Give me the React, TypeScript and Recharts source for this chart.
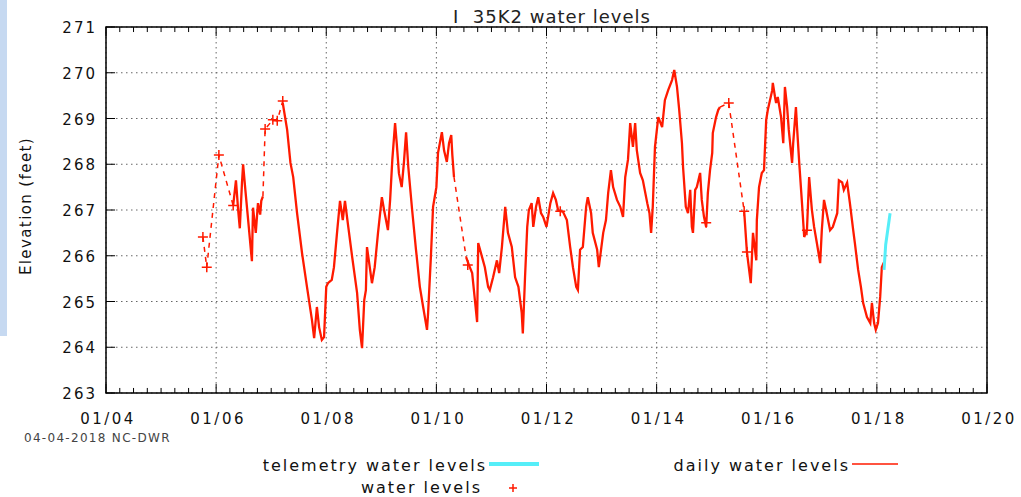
// Well I 35K2 — water level hydrograph, NC-DWR style (gnuplot look) in Recharts.
import React from 'react';
import {
  ComposedChart, Line, XAxis, YAxis, CartesianGrid, ReferenceLine, ReferenceArea,
} from 'recharts';

type Pt = [number, number];

const xTicks = [2004, 2006, 2008, 2010, 2012, 2014, 2016, 2018, 2020];
const xTickLabels = ['01/04', '01/06', '01/08', '01/10', '01/12', '01/14', '01/16', '01/18', '01/20'];
const yTicks = [263, 264, 265, 266, 267, 268, 269, 270, 271];

// daily water levels (ft), split where the record has gaps
const daily2006: Pt[] = [
  [2006.31, 267.1], [2006.36, 267.65], [2006.4, 267.0], [2006.43, 266.6], [2006.47, 267.6],
  [2006.49, 268.0], [2006.53, 267.45], [2006.58, 266.8], [2006.65, 265.88], [2006.67, 267.05],
  [2006.72, 266.5], [2006.76, 267.15], [2006.8, 266.9], [2006.82, 267.2], [2006.85, 267.3],
];

const daily2007: Pt[] = [
  [2007.21, 269.34], [2007.29, 268.75], [2007.35, 268.03], [2007.4, 267.72], [2007.47, 266.93],
  [2007.56, 266.06], [2007.65, 265.32], [2007.74, 264.6], [2007.78, 264.2], [2007.83, 264.88],
  [2007.87, 264.44], [2007.92, 264.16], [2007.96, 264.22], [2008.0, 265.32], [2008.03, 265.4],
  [2008.1, 265.47], [2008.14, 265.75], [2008.2, 266.56], [2008.25, 267.2], [2008.3, 266.78],
  [2008.34, 267.2], [2008.4, 266.63], [2008.47, 265.98], [2008.56, 265.19], [2008.61, 264.38],
  [2008.65, 263.98], [2008.69, 265.03], [2008.72, 265.25], [2008.74, 266.19], [2008.79, 265.75],
  [2008.83, 265.4], [2008.88, 265.75], [2008.94, 266.5], [2009.01, 267.28], [2009.05, 267.0],
  [2009.12, 266.56], [2009.16, 267.22], [2009.2, 268.1], [2009.25, 268.9], [2009.28, 268.46],
  [2009.32, 267.8], [2009.37, 267.5], [2009.41, 268.03], [2009.45, 268.7], [2009.49, 267.94],
  [2009.56, 267.0], [2009.63, 266.13], [2009.7, 265.32], [2009.76, 264.88], [2009.83, 264.38],
  [2009.85, 264.75], [2009.9, 265.97], [2009.94, 267.07], [2010.0, 267.5], [2010.03, 268.25],
  [2010.1, 268.7], [2010.14, 268.3], [2010.19, 268.05], [2010.23, 268.46], [2010.27, 268.64],
  [2010.29, 268.2], [2010.32, 267.72],
];

const daily2010: Pt[] = [
  [2010.54, 265.97], [2010.59, 265.8], [2010.65, 265.62], [2010.7, 265.03], [2010.74, 264.55],
  [2010.76, 266.28], [2010.83, 265.97], [2010.88, 265.75], [2010.94, 265.32], [2010.97, 265.25],
  [2011.03, 265.53], [2011.1, 265.9], [2011.14, 265.62], [2011.19, 266.19], [2011.25, 267.07],
  [2011.3, 266.5], [2011.37, 266.19], [2011.43, 265.53], [2011.49, 265.32], [2011.55, 264.75],
  [2011.57, 264.3], [2011.61, 265.53], [2011.65, 266.63], [2011.68, 267.0], [2011.73, 267.15],
  [2011.76, 266.63], [2011.81, 267.07], [2011.85, 267.28], [2011.9, 266.93], [2011.94, 266.85],
  [2012.0, 266.63], [2012.07, 267.15], [2012.12, 267.37], [2012.17, 267.22], [2012.21, 267.0],
  [2012.3, 266.96], [2012.37, 266.78], [2012.43, 266.19], [2012.48, 265.75], [2012.54, 265.32],
  [2012.57, 265.25], [2012.61, 266.13], [2012.66, 266.19], [2012.72, 267.07], [2012.75, 267.28],
  [2012.81, 266.93], [2012.84, 266.5], [2012.92, 266.13], [2012.95, 265.75], [2013.03, 266.5],
  [2013.08, 266.78], [2013.12, 267.37], [2013.17, 267.87], [2013.21, 267.5], [2013.28, 267.22],
  [2013.34, 267.07], [2013.39, 266.85], [2013.43, 267.72], [2013.48, 268.1], [2013.52, 268.9],
  [2013.57, 268.38], [2013.61, 268.9], [2013.64, 268.31], [2013.7, 267.81], [2013.75, 267.65],
  [2013.83, 267.15], [2013.87, 266.93], [2013.9, 266.5], [2013.93, 267.07], [2013.97, 268.38],
  [2014.03, 269.03], [2014.1, 268.81], [2014.15, 269.4], [2014.21, 269.62], [2014.28, 269.84],
  [2014.32, 270.06], [2014.37, 269.69], [2014.41, 269.19], [2014.46, 268.46], [2014.48, 267.94],
  [2014.53, 267.07], [2014.57, 266.93], [2014.61, 267.44], [2014.64, 266.63], [2014.66, 266.5],
  [2014.7, 267.44], [2014.73, 267.5], [2014.79, 267.81], [2014.82, 267.22], [2014.86, 266.85],
  [2014.9, 266.63], [2014.93, 267.37], [2014.97, 267.87], [2015.01, 268.25], [2015.02, 268.68],
  [2015.08, 269.03], [2015.12, 269.19], [2015.15, 269.25],
];

const daily2015: Pt[] = [
  [2015.59, 266.97], [2015.64, 266.08], [2015.71, 265.4], [2015.75, 266.5], [2015.81, 265.9],
  [2015.82, 266.78], [2015.86, 267.5], [2015.91, 267.81], [2015.95, 267.87], [2015.99, 268.97],
  [2016.02, 269.19], [2016.1, 269.62], [2016.11, 269.78], [2016.15, 269.47], [2016.17, 269.34],
  [2016.2, 269.47], [2016.26, 269.03], [2016.3, 268.46], [2016.33, 269.69], [2016.37, 269.25],
  [2016.4, 268.75], [2016.46, 268.03], [2016.48, 268.46], [2016.53, 269.25], [2016.55, 268.81],
  [2016.59, 268.03], [2016.64, 267.15], [2016.68, 266.41], [2016.73, 266.56], [2016.77, 267.72],
  [2016.82, 267.0], [2016.86, 266.63], [2016.91, 266.28], [2016.97, 265.84], [2017.0, 266.56],
  [2017.04, 267.22], [2017.09, 266.93], [2017.15, 266.56], [2017.2, 266.63], [2017.28, 266.93],
  [2017.31, 267.65], [2017.37, 267.6], [2017.4, 267.44], [2017.46, 267.6], [2017.51, 267.15],
  [2017.57, 266.56], [2017.6, 266.28], [2017.66, 265.69], [2017.71, 265.32], [2017.75, 264.97],
  [2017.82, 264.66], [2017.88, 264.53], [2017.91, 264.97], [2017.95, 264.53], [2017.98, 264.38],
  [2018.02, 264.53], [2018.06, 265.1], [2018.09, 265.75], [2018.13, 265.86],
];

// telemetry water levels
const telemetry: Pt[] = [[2018.13, 265.69], [2018.16, 266.24], [2018.24, 266.93]];

// manual (tape) water levels
const manual: Pt[] = [
  [2005.76, 266.41], [2005.83, 265.75], [2006.05, 268.2], [2006.31, 267.1], [2006.89, 268.77],
  [2007.03, 268.97], [2007.11, 268.95], [2007.21, 269.38], [2010.57, 265.8], [2012.25, 266.97],
  [2014.9, 266.72], [2015.31, 269.34], [2015.59, 266.97], [2015.64, 266.08], [2016.73, 266.56],
];

// dashed connections across gaps in the daily record
const bridges: Pt[][] = [
  [[2005.76, 266.41], [2005.83, 265.75], [2006.05, 268.2], [2006.31, 267.1]],
  [[2006.85, 267.3], [2006.89, 268.77], [2007.03, 268.97], [2007.11, 268.95], [2007.21, 269.38]],
  [[2010.32, 267.72], [2010.54, 265.97]],
  [[2015.15, 269.25], [2015.31, 269.34], [2015.59, 266.97]],
];

const RED = '#ff1a00';
const CYAN = '#55eef8';
const FONT = '"DejaVu Sans", Verdana, sans-serif';

function joinSegments(segs: Pt[][]) {
  const out: { t: number; v: number | null }[] = [];
  segs.forEach((s, i) => {
    if (i > 0) out.push({ t: (out[out.length - 1].t + s[0][0]) / 2, v: null });
    s.forEach(([t, v]) => out.push({ t, v }));
  });
  return out;
}

const dailyData = joinSegments([daily2006, daily2007, daily2010, daily2015]);
const bridgeData = joinSegments(bridges);
const telemetryData = telemetry.map(([t, v]) => ({ t, v }));
const manualData = manual.map(([t, v]) => ({ t, v }));

const minorTicks: number[] = [];
for (let q = 2004; q <= 2020; q += 0.25) if (!xTicks.includes(q)) minorTicks.push(q);

function XTick({ x, y, payload }: any) {
  const i = xTicks.indexOf(payload.value);
  return (
    <text x={x + 2} y={y + 31} textAnchor="middle" fontFamily={FONT} fontSize={15}
          letterSpacing={2.5} fill="#111">
      {xTickLabels[i]}
    </text>
  );
}

function YTick({ x, y, payload }: any) {
  return (
    <text x={x - 9} y={y + 6} textAnchor="end" fontFamily={FONT} fontSize={15}
          letterSpacing={2} fill="#111">
      {payload.value}
    </text>
  );
}

function Plus({ cx, cy, index }: any) {
  if (cx == null || cy == null) return <g key={index} />;
  return (
    <path key={index} d={`M${cx - 5},${cy}h10M${cx},${cy - 5}v10`}
          stroke={RED} strokeWidth={1.5} fill="none" />
  );
}

export default function App() {
  const seg = (a: Pt, b: Pt, k: string) => (
    <ReferenceLine key={k} segment={[{ x: a[0], y: a[1] }, { x: b[0], y: b[1] }]}
                   stroke="#000" strokeWidth={1} />
  );
  return (
    <div style={{ position: 'absolute', left: 0, top: 0, width: 1021, height: 497,
                  background: '#fff', fontFamily: FONT }}>
      <div style={{ position: 'absolute', left: 0, top: 0, width: 7, height: 336,
                    background: '#c6d9f1' }} />
      <ComposedChart width={1021} height={497}
                     margin={{ top: 27, right: 34, bottom: 74, left: 46 }}>
        <CartesianGrid stroke="#666" strokeDasharray="1.5 3.5" />
        <XAxis type="number" dataKey="t" domain={[2004, 2020]} ticks={xTicks}
               allowDataOverflow height={30} tickLine={false} axisLine={false}
               tickSize={0} tickMargin={0} tick={<XTick />} />
        <YAxis type="number" dataKey="v" domain={[263, 271]} ticks={yTicks}
               allowDataOverflow width={60} tickLine={false} axisLine={false}
               tickSize={0} tickMargin={0} tick={<YTick />} />

        {minorTicks.map(t => seg([t, 263], [t, 263.11], `mb${t}`))}
        {minorTicks.map(t => seg([t, 271], [t, 270.89], `mt${t}`))}
        {xTicks.map(t => seg([t, 263], [t, 263.2], `Mb${t}`))}
        {xTicks.map(t => seg([t, 271], [t, 270.8], `Mt${t}`))}
        {yTicks.map(v => seg([2004, v], [2004.165, v], `Ml${v}`))}

        <Line data={bridgeData} dataKey="v" stroke={RED} strokeWidth={1.5}
              strokeDasharray="5 5" dot={false} connectNulls={false}
              isAnimationActive={false} />
        <Line data={dailyData} dataKey="v" stroke={RED} strokeWidth={2.3}
              strokeLinejoin="miter" dot={false} connectNulls={false}
              isAnimationActive={false} />
        <Line data={telemetryData} dataKey="v" stroke={CYAN} strokeWidth={3}
              dot={false} isAnimationActive={false} />
        <Line data={manualData} dataKey="v" stroke="none" dot={<Plus />}
              activeDot={false} isAnimationActive={false} />

        <ReferenceArea x1={2004} x2={2020} y1={263} y2={271} fill="none"
                       stroke="#000" strokeWidth={1.5} />
      </ComposedChart>

      <svg width={1021} height={497}
           style={{ position: 'absolute', left: 0, top: 0, pointerEvents: 'none' }}>
        <text x={552} y={23} textAnchor="middle" fontFamily={FONT} fontSize={18}
              letterSpacing={1} fill="#222" style={{ whiteSpace: 'pre' }}>
          {'I  35K2 water levels'}
        </text>
        <text transform="translate(31,206) rotate(-90)" textAnchor="middle"
              fontFamily={FONT} fontSize={15} letterSpacing={1.4} fill="#111">
          Elevation (feet)
        </text>
        <text x={24} y={442} fontFamily={FONT} fontSize={12} letterSpacing={1.3}
              fill="#444">04-04-2018 NC-DWR</text>

        <text x={487} y={471} textAnchor="end" fontFamily={FONT} fontSize={16}
              letterSpacing={2} fill="#111">telemetry water levels</text>
        <line x1={489} y1={464} x2={539} y2={464} stroke={CYAN} strokeWidth={4} />
        <text x={850} y={471} textAnchor="end" fontFamily={FONT} fontSize={16}
              letterSpacing={2} fill="#111">daily water levels</text>
        <line x1={852} y1={464} x2={898} y2={464} stroke={RED} strokeWidth={1.5} />
        <text x={482} y={493} textAnchor="end" fontFamily={FONT} fontSize={16}
              letterSpacing={2} fill="#111">water levels</text>
        <path d="M509,488h8M513,484v8" stroke={RED} strokeWidth={1.5} />
      </svg>
    </div>
  );
}
